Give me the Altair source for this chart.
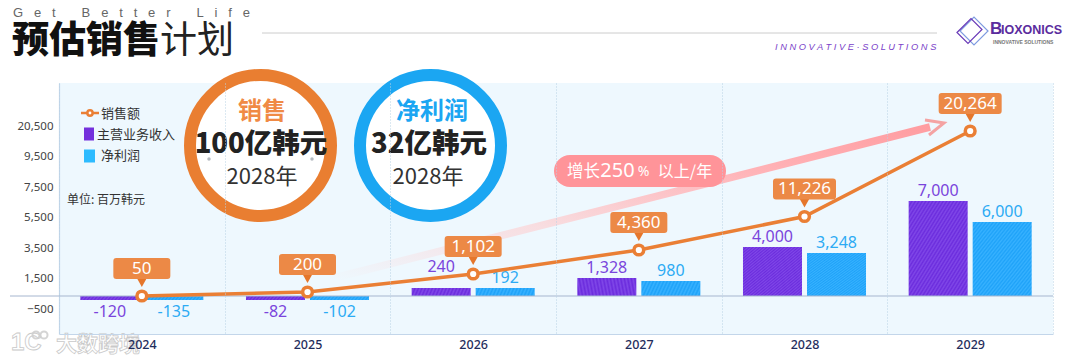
import altair as alt
import pandas as pd

years = ["2024", "2025", "2026", "2027", "2028", "2029"]
sales = [50, 200, 1102, 4360, 11226, 20264]
revenue = [-120, -82, 240, 1328, 4000, 7000]
profit = [-135, -102, 192, 980, 3248, 6000]
axis_ticks = [-500, 1500, 3500, 5500, 7500, 9500, 20500]

SANS = "Noto Sans CJK SC"
PLOT_L, PLOT_T, PLOT_W, PLOT_H = 59, 83, 994, 251
ORANGE = "#EA7F35"; BOX = "#EC8946"; PURPLE = "#7A45DC"; BLUE = "#2CABF4"; NAVY = "#1F2D5C"

x_scale = alt.Scale(domain=years, paddingInner=0, paddingOuter=0)
bar_scale = alt.Scale(domain=[-2800, -135, -82, 0, 192, 240, 980, 1328, 3248, 4000, 6000, 7000, 15700],
                      range=[251, 217, 217, 213, 205, 205, 198, 195, 170, 164, 139, 118, 0])
line_scale = alt.Scale(domain=[50, 200, 1102, 4360, 11226, 20264],
                       range=[213, 209, 191, 167, 133.5, 48])
tick_scale = alt.Scale(domain=[-1500] + axis_ticks + [30000],
                       range=[251, 226, 195, 165, 134, 104, 73, 43, 0])

bars = pd.DataFrame({
    "year": years * 2,
    "kind": ["a"] * 6 + ["b"] * 6,
    "value": revenue + profit,
})
bars["label"] = [f"{v:,}" for v in bars["value"]]
line_df = pd.DataFrame({"year": years, "sales": sales})
line_df["label"] = [f"{v:,}" for v in sales]
one = alt.Data(values=[{"k": 0}])


def px(x): return x - PLOT_L
def py(y): return y - PLOT_T


def note(text, x, y, size=13, color="#333333", weight=400, align="left", font=SANS, **kw):
    return alt.Chart(one).mark_text(text=text, fontSize=size, color=color, fontWeight=weight,
                                    align=align, baseline="middle", font=font, **kw).encode(
        x=alt.value(px(x)), y=alt.value(py(y)))


def glyph(shape, x, y, fill=None, stroke=None, width=0, size=4, opacity=1):
    kw = dict(shape=shape, size=size, opacity=opacity)
    if fill:
        kw.update(filled=True, fill=fill)
    else:
        kw.update(filled=False, fill="transparent")
    if stroke:
        kw.update(stroke=stroke, strokeWidth=width)
    return alt.Chart(one).mark_point(**kw).encode(x=alt.value(px(x)), y=alt.value(py(y)))


def hatch(c1, c2, n=34):
    stops = []
    for i in range(n * 2 + 1):
        stops.append(alt.GradientStop(color=c1 if i % 2 == 0 else c2, offset=i / (n * 2)))
    return alt.LinearGradient(gradient="linear", stops=stops, x1=0, y1=0, x2=1, y2=1)


# axes ---------------------------------------------------------------------
x_axis = alt.Axis(
    tickBand="extent", grid=True, gridDash=[1, 2], gridColor="#B9D3E4", gridWidth=1,
    ticks=False, domain=True, domainColor="#C3D6EA", domainWidth=1.2, labelAngle=0,
    labelFont="Noto Sans", labelFontSize=12.5, labelFontWeight=500, labelColor=NAVY,
    labelPadding=4, zindex=1)
x_enc = alt.X("year:N", scale=x_scale, title=None, axis=x_axis)
tick_df = pd.DataFrame({"t": axis_ticks})
y_axis_layer = alt.Chart(tick_df).mark_point(opacity=0).encode(
    y=alt.Y("t:Q", scale=tick_scale, title=None, axis=alt.Axis(
        orient="left", values=axis_ticks, labelExpr="format(datum.value, ',')", grid=False,
        ticks=False, domain=True, domainColor="#C3D6EA", domainWidth=1.2, labelFont="Noto Sans",
        labelFontSize=11.5, labelColor="#444444", labelPadding=6)),
    x=alt.value(0),
)

# pink growth arrow -----------------------------------------------------------
arrow_grad = alt.LinearGradient(gradient="linear", x1=0, y1=1, x2=1, y2=0, stops=[
    alt.GradientStop(color="#EEF8FE", offset=0),
    alt.GradientStop(color="#F8DDE0", offset=0.35),
    alt.GradientStop(color="#FFB4B8", offset=0.7),
    alt.GradientStop(color="#FF9DA1", offset=1),
])
arrow = alt.Chart(one).mark_rule(stroke=arrow_grad, strokeWidth=7.5, opacity=1).encode(
    x=alt.value(px(330)), y=alt.value(py(279)), x2=alt.value(px(930)), y2=alt.value(py(127)))
arrow_head = glyph("M-19,-3L0,0L-15,12", 944, 123, stroke="#F4A3A3", width=3)
pill = alt.Chart(one).mark_rule(stroke="#FF9499", strokeWidth=32, strokeCap="round").encode(
    x=alt.value(px(570)), y=alt.value(py(171)), x2=alt.value(px(710)), y2=alt.value(py(171)))

# bars --------------------------------------------------------------------------
x_off = alt.XOffset("kind:N", scale=alt.Scale(domain=["a", "b"], paddingInner=0.078, paddingOuter=0.333))


def bar_layer(kind, c1, c2):
    return alt.Chart(bars).transform_filter(f"datum.kind == '{kind}'").mark_bar(
        fill=hatch(c1, c2), opacity=1).encode(
        x=x_enc, xOffset=x_off,
        y=alt.Y("value:Q", scale=bar_scale, axis=None),
        y2=alt.datum(0),
    )


def bar_labels(kind, color):
    base = alt.Chart(bars).transform_filter(f"datum.kind == '{kind}'")
    enc = dict(x=x_enc, xOffset=x_off, y=alt.Y("value:Q", scale=bar_scale, axis=None),
               text=alt.Text("label:N"))
    common = dict(color=color, fontSize=16, font="Noto Sans", align="center", baseline="middle")
    return alt.layer(
        base.transform_filter("datum.value > 0 && datum.value != 240").mark_text(dy=-10.5, **common).encode(**enc),
        base.transform_filter("datum.value == 240").mark_text(dy=-21.5, **common).encode(**enc),
        base.transform_filter("datum.value < 0").mark_text(dy=12, **common).encode(**enc),
    )


baseline = alt.Chart(pd.DataFrame({"v": [0]})).mark_rule(color="#A6B6CF", strokeWidth=1).encode(
    y=alt.Y("v:Q", scale=bar_scale, axis=None), x=alt.value(px(10)), x2=alt.value(px(1053)))

# sales line ------------------------------------------------------------------------
line_y = alt.Y("sales:Q", scale=line_scale, axis=None)
sales_line = alt.Chart(line_df).mark_line(color=ORANGE, strokeWidth=3.5).encode(x=x_enc, y=line_y)
sales_pts = alt.Chart(line_df).mark_point(shape="circle", size=95, filled=True, fill="white",
                                          stroke=ORANGE, strokeWidth=3.5, opacity=1).encode(x=x_enc, y=line_y)


def box_path(w):
    h = w / 2
    return (f"M{-h + 3},-38L{h - 3},-38Q{h},-38 {h},-35L{h},-20Q{h},-17 {h - 3},-17"
            f"L{-h + 3},-17Q{-h},-17 {-h},-20L{-h},-35Q{-h},-38 {-h + 3},-38Z")


def callout(expr, w):
    d = alt.Chart(line_df).transform_filter(expr)
    return alt.layer(
        d.mark_point(shape="M-5,-18L5,-18L0,-9Z", size=4, filled=True, fill="#E5762B", opacity=1).encode(x=x_enc, y=line_y),
        d.mark_point(shape=box_path(w), size=4, filled=True, fill=BOX, opacity=1).encode(x=x_enc, y=line_y),
    )


call_labels = alt.Chart(line_df).mark_text(color="white", fontSize=17, font="Noto Sans", dy=-27.5,
                                           baseline="middle", align="center").encode(
    x=x_enc, y=line_y, text=alt.Text("label:N"))

# big target rings ----------------------------------------------------------------
def ring(cx, color):
    return glyph("circle", cx, 145.5, fill="white", stroke=color, width=12, size=141 ** 2)


rings = [
    ring(260.5, "#E97E31"), ring(430.5, "#1BA6F2"),
    note("销售", 262, 112, size=24, color="#F08A45", weight=700, align="center"),
    note("100亿韩元", 261, 145, size=27.5, color="#222222", weight=900, align="center"),
    note("2028年", 262, 177, size=22, color="#333333", align="center"),
    note("净利润", 432, 112, size=24, color="#1BA6F2", weight=700, align="center"),
    note("32亿韩元", 429, 145, size=27.5, color="#222222", weight=900, align="center"),
    note("2028年", 428, 177, size=22, color="#333333", align="center"),
    glyph("circle", 209, 159, fill="#B5BAC0", size=12),
    glyph("circle", 312, 159, fill="#B5BAC0", size=12),
]

# hand-placed legend, matching the source slide --------------------------------------
legend = [
    alt.Chart(one).mark_rule(color=ORANGE, strokeWidth=2.5).encode(
        x=alt.value(px(81)), x2=alt.value(px(99)), y=alt.value(py(113))),
    glyph("circle", 90, 113, fill="white", stroke=ORANGE, width=2.5, size=28),
    note("销售额", 101, 114),
    glyph("M-5,-6.5L5,-6.5L5,6.5L-5,6.5Z", 89, 134, fill="#7430DC"),
    note("主营业务收入", 97, 135),
    glyph("M-5.5,-6.5L5.5,-6.5L5.5,6.5L-5.5,6.5Z", 89.5, 156, fill="#2DBBFF"),
    note("净利润", 101, 156),
    note("单位: 百万韩元", 67, 200, size=12),
]

# growth pill text -------------------------------------------------------------------
pill_text = [
    note("增长", 583.5, 172, size=16.5, color="white", align="center"),
    note("250", 617.5, 171, size=20, color="white", align="center", font="Noto Sans"),
    note("%", 643.5, 172, size=14, color="white", align="center", font="Noto Sans"),
    note("以上/年", 685, 172, size=16, color="white", align="center"),
]

# slide header -----------------------------------------------------------------------
header = [
    note("G\u2002\u2004e\u2002\u2004t\u2003\u2003B\u2002\u2004e\u2002\u2004t\u2002\u2004t\u2002\u2004e\u2002\u2004r\u2003\u2003L\u2002\u2004i\u2002\u2004f\u2002\u2004e",
         13, 13, size=13, color="#666666", font="Liberation Sans"),
    note("预估销售", 12, 42, size=37, color="#111111", weight=900),
    note("计划", 160, 42, size=37, color="#222222", weight=400),
    alt.Chart(one).mark_rule(color="#CCCCCC", strokeWidth=1).encode(
        x=alt.value(px(262)), x2=alt.value(px(937)), y=alt.value(py(33))),
    note("I N N O V A T I V E · S O L U T I O N S", 775, 47, size=9.3, color="#7B3FC9",
         font="Liberation Sans", fontStyle="italic"),
    glyph("M-14,0L0,-14L14,0L0,14Z", 974, 31, stroke="#7E9BE0", width=1.2),
    glyph("M-14,0L0,-14L11,-3L-3,11Z", 971, 32.5, stroke="#6A3AB8", width=1.2),
    note("B", 990, 29, size=17, color="#5B2C9E", weight=700, font="Liberation Sans"),
    note("IOXONICS", 1001, 30, size=12.5, color="#5B2C9E", weight=700, font="Liberation Sans"),
    note("INNOVATIVE  SOLUTIONS", 993, 42, size=5, color="#777777", weight=700, font="Liberation Sans"),
]

# watermark ------------------------------------------------------------------------------
watermark = [
    note("1C", 11, 343, size=24, color="white", weight=700, font="Liberation Sans",
         stroke="#C4C4C4", strokeWidth=0.8, opacity=0.9),
    glyph("circle", 36, 335, stroke="#D0D0D0", width=2, size=50, opacity=0.9),
    glyph("circle", 44, 335, stroke="#D0D0D0", width=2, size=50, opacity=0.9),
    note("大数跨境", 56, 345, size=21, color="white", weight=700,
         stroke="#C4C4C4", strokeWidth=0.8, opacity=0.9),
]

chart = alt.layer(
    y_axis_layer,
    arrow, arrow_head,
    bar_layer("a", "#6B2CDD", "#8048E8"), bar_layer("b", "#1EA2F8", "#38B2FF"),
    baseline,
    bar_labels("a", PURPLE), bar_labels("b", BLUE),
    pill, *pill_text,
    sales_line, sales_pts,
    callout("datum.sales < 11000", 57), callout("datum.sales > 11000", 63),
    call_labels,
    *rings, *legend, *header, *watermark,
).resolve_scale(y="independent").properties(
    width=PLOT_W, height=PLOT_H,
    padding={"left": 51, "top": 75, "right": 19, "bottom": 24},
    autosize=alt.AutoSizeParams(type="none"),
    background="white",
).configure_view(fill="#EEF8FE", stroke=None)

chart.save("out.html", embed_options={"renderer": "svg", "actions": False})
